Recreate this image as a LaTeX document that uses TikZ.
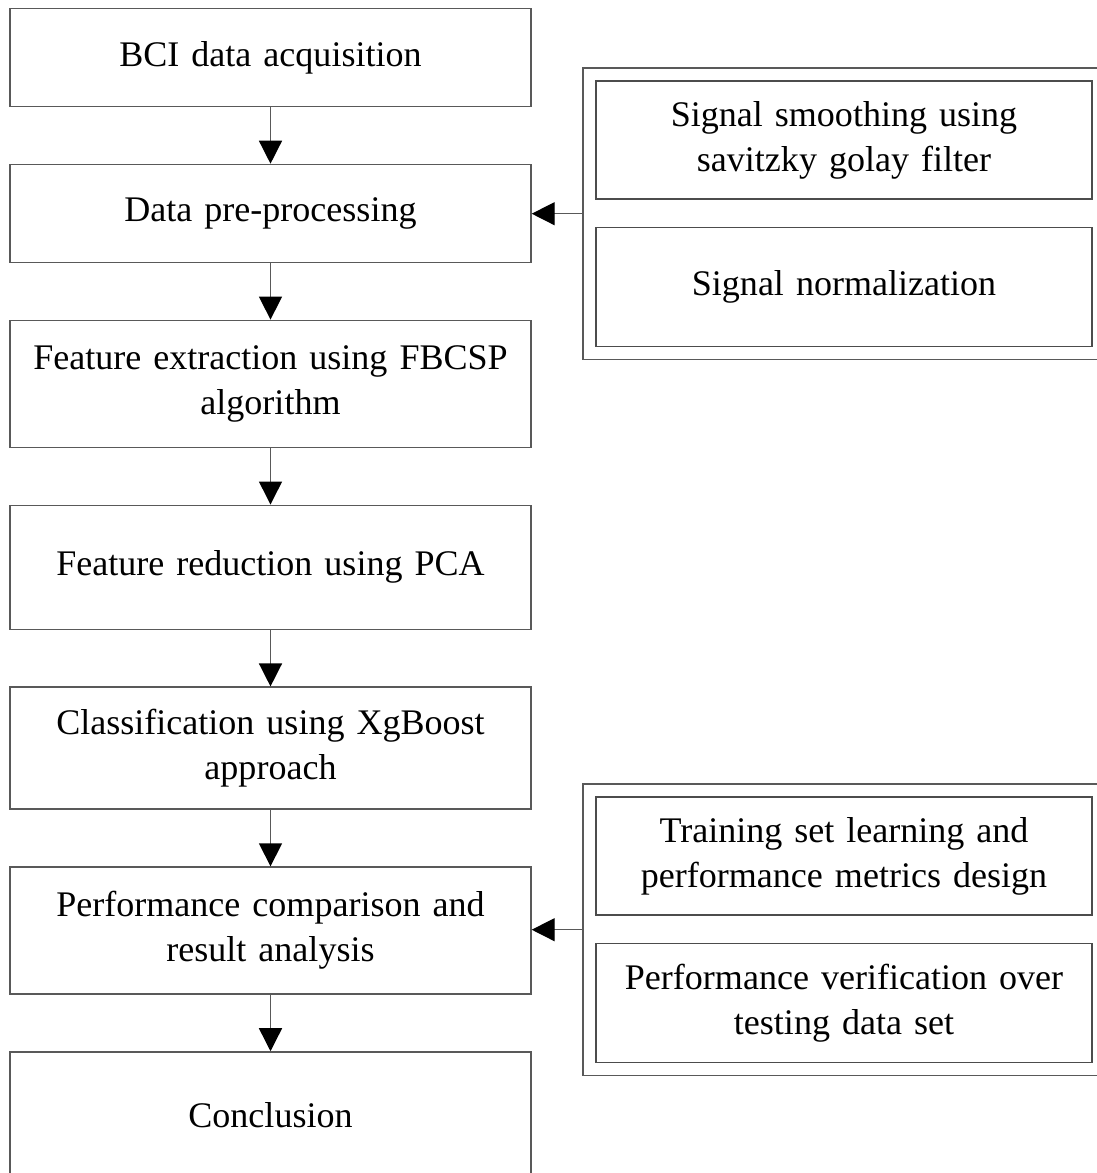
\documentclass[tikz,border=0pt]{standalone}
\usepackage{fontspec}
\setmainfont{Liberation Serif}
\usepackage{xcolor}
\usetikzlibrary{positioning, arrows.meta, fit}

\begin{document}
\begin{tikzpicture}[
  stage/.style={
    rectangle, draw=black!65, line width=0.8pt,
    minimum width=10.42cm, minimum height=2.52cm,
    text width=10cm, align=center,
    font=\fontsize{20.5}{25.5}\selectfont
  },
  sub/.style={
    rectangle, draw=black!70, line width=0.8pt,
    minimum width=9.92cm, text width=9.6cm, align=center,
    font=\fontsize{20.5}{25.5}\selectfont
  },
  grp/.style={rectangle, draw=black!65, line width=0.8pt, inner sep=0.25cm},
  arr/.style={-{Triangle[length=4.6mm, width=4.6mm, black]}, draw=black!65, line width=0.8pt}
]
\useasboundingbox (0,0) rectangle (21.94,-23.46);
\clip (0,0) rectangle (21.94,-23.46);

% main flow
\node[stage, minimum height=1.96cm] (acq) at (5.41,-1.15) {BCI data acquisition};
\node[stage, minimum height=1.96cm, below=1.13cm of acq] (pre) {Data pre-processing};
\node[stage, minimum height=2.54cm, below=1.13cm of pre] (fbcsp) {Feature extraction using FBCSP\\algorithm};
\node[stage, minimum height=2.48cm, below=1.13cm of fbcsp] (pca) {Feature reduction using PCA};
\node[stage, minimum height=2.44cm, below=1.13cm of pca] (xgb) {Classification using XgBoost\\approach};
\node[stage, minimum height=2.54cm, below=1.13cm of xgb] (perf) {Performance comparison and\\result analysis};
\node[stage, below=1.13cm of perf] (concl) {Conclusion};

% pre-processing steps
\node[sub, minimum height=2.36cm] (smooth) at (16.88,-2.80) {Signal smoothing using\\savitzky golay filter};
\node[sub, minimum height=2.38cm, below=0.54cm of smooth] (norm) {Signal normalization};
\node[grp, fit=(smooth) (norm)] (prebox) {};

% evaluation steps
\node[sub, minimum height=2.36cm] (train) at (16.88,-17.12) {Training set learning and\\performance metrics design};
\node[sub, minimum height=2.38cm, below=0.54cm of train] (verify) {Performance verification over\\testing data set};
\node[grp, fit=(train) (verify)] (evalbox) {};

\draw[arr] (acq) -- (pre);
\draw[arr] (pre) -- (fbcsp);
\draw[arr] (fbcsp) -- (pca);
\draw[arr] (pca) -- (xgb);
\draw[arr] (xgb) -- (perf);
\draw[arr] (perf) -- (concl);

\draw[arr] (prebox.west) -- (prebox.west -| pre.east);
\draw[arr] (evalbox.west) -- (evalbox.west -| perf.east);
\end{tikzpicture}
\end{document}
